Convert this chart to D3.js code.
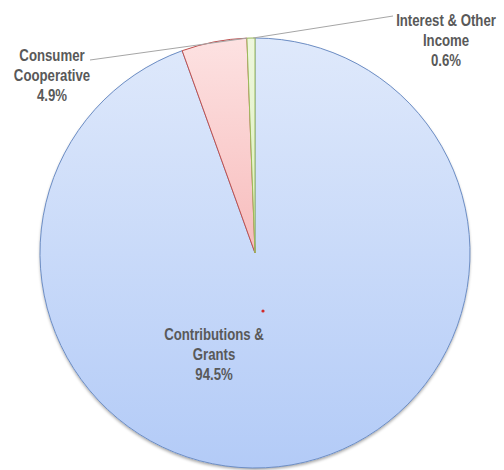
<!DOCTYPE html>
<html>
<head>
<meta charset="utf-8">
<script src="https://cdn.jsdelivr.net/npm/d3@7"></script>
<style>
  html, body { margin: 0; padding: 0; background: #ffffff; }
  svg text { font-family: "Liberation Sans", Arial, sans-serif; font-weight: bold; fill: #595959; }
</style>
</head>
<body>
<svg id="chart" width="504" height="470"></svg>
<script>
const categories = ["Contributions & Grants", "Consumer Cooperative", "Interest & Other Income"];
const values = [94.5, 4.9, 0.6];
const labelLines = [["Contributions &", "Grants", "94.5%"], ["Consumer", "Cooperative", "4.9%"], ["Interest & Other", "Income", "0.6%"]];

const W = 504, H = 470;
const cx = 255, cy = 253, R = 215;
const svg = d3.select("#chart");
const defs = svg.append("defs");

const palette = [
  { top: "#dfe9fb", bottom: "#b3cbf7", stroke: "#6f8fc4" },
  { top: "#fde2e2", bottom: "#f7bcbc", stroke: "#c0504d" },
  { top: "#eef7dd", bottom: "#dcefbb", stroke: "#9bbb59" }
];
palette.forEach((p, i) => {
  const g = defs.append("linearGradient").attr("id", "grad" + i)
    .attr("x1", 0).attr("y1", 0).attr("x2", 0).attr("y2", 1);
  g.append("stop").attr("offset", "0%").attr("stop-color", p.top);
  g.append("stop").attr("offset", "100%").attr("stop-color", p.bottom);
});
const f = defs.append("filter").attr("id", "shadow").attr("x", "-10%").attr("y", "-10%").attr("width", "120%").attr("height", "120%");
f.append("feDropShadow").attr("dx", 0).attr("dy", 2).attr("stdDeviation", 1.5).attr("flood-color", "#000").attr("flood-opacity", 0.35);

const pie = d3.pie().sort(null).value(d => d)(values);
const arc = d3.arc().innerRadius(0).outerRadius(R);

const g = svg.append("g").attr("transform", `translate(${cx},${cy})`);
g.append("circle").attr("r", R).attr("fill", "#b3cbf7").attr("filter", "url(#shadow)");
g.selectAll("path").data(pie).join("path")
  .attr("d", arc)
  .attr("fill", (d, i) => `url(#grad${i})`)
  .attr("stroke", (d, i) => palette[i].stroke)
  .attr("stroke-width", 1)
  .attr("stroke-linejoin", "round");

function rim(a, r) { return [cx + r * Math.sin(a), cy - r * Math.cos(a)]; }

// leader lines
const leaderStarts = [null, [90, 60], [393, 16]];
const leaderEnds = [null, rim(pie[2].startAngle, R), rim((pie[2].startAngle + pie[2].endAngle) / 2 + 0.01, R)];
[1, 2].forEach(i => {
  svg.append("line")
    .attr("x1", leaderStarts[i][0]).attr("y1", leaderStarts[i][1])
    .attr("x2", leaderEnds[i][0]).attr("y2", leaderEnds[i][1])
    .attr("stroke", "#a6a6a6").attr("stroke-width", 1);
});

// labels (condensed horizontally to mimic a narrow bold face)
const labelPos = [[214, 340], [52, 61], [446, 26]];
const squeeze = 0.8;
labelLines.forEach((lines, i) => {
  const t = svg.append("text")
    .attr("text-anchor", "middle")
    .attr("font-size", 16.5)
    .attr("transform", `translate(${labelPos[i][0]},${labelPos[i][1]}) scale(${squeeze},1)`);
  lines.forEach((s, j) => {
    t.append("tspan").attr("x", 0).attr("y", j * 20).text(s);
  });
});

// small red marker
svg.append("circle").attr("cx", 263).attr("cy", 311).attr("r", 1.6).attr("fill", "#d22a2a");
</script>
</body>
</html>
